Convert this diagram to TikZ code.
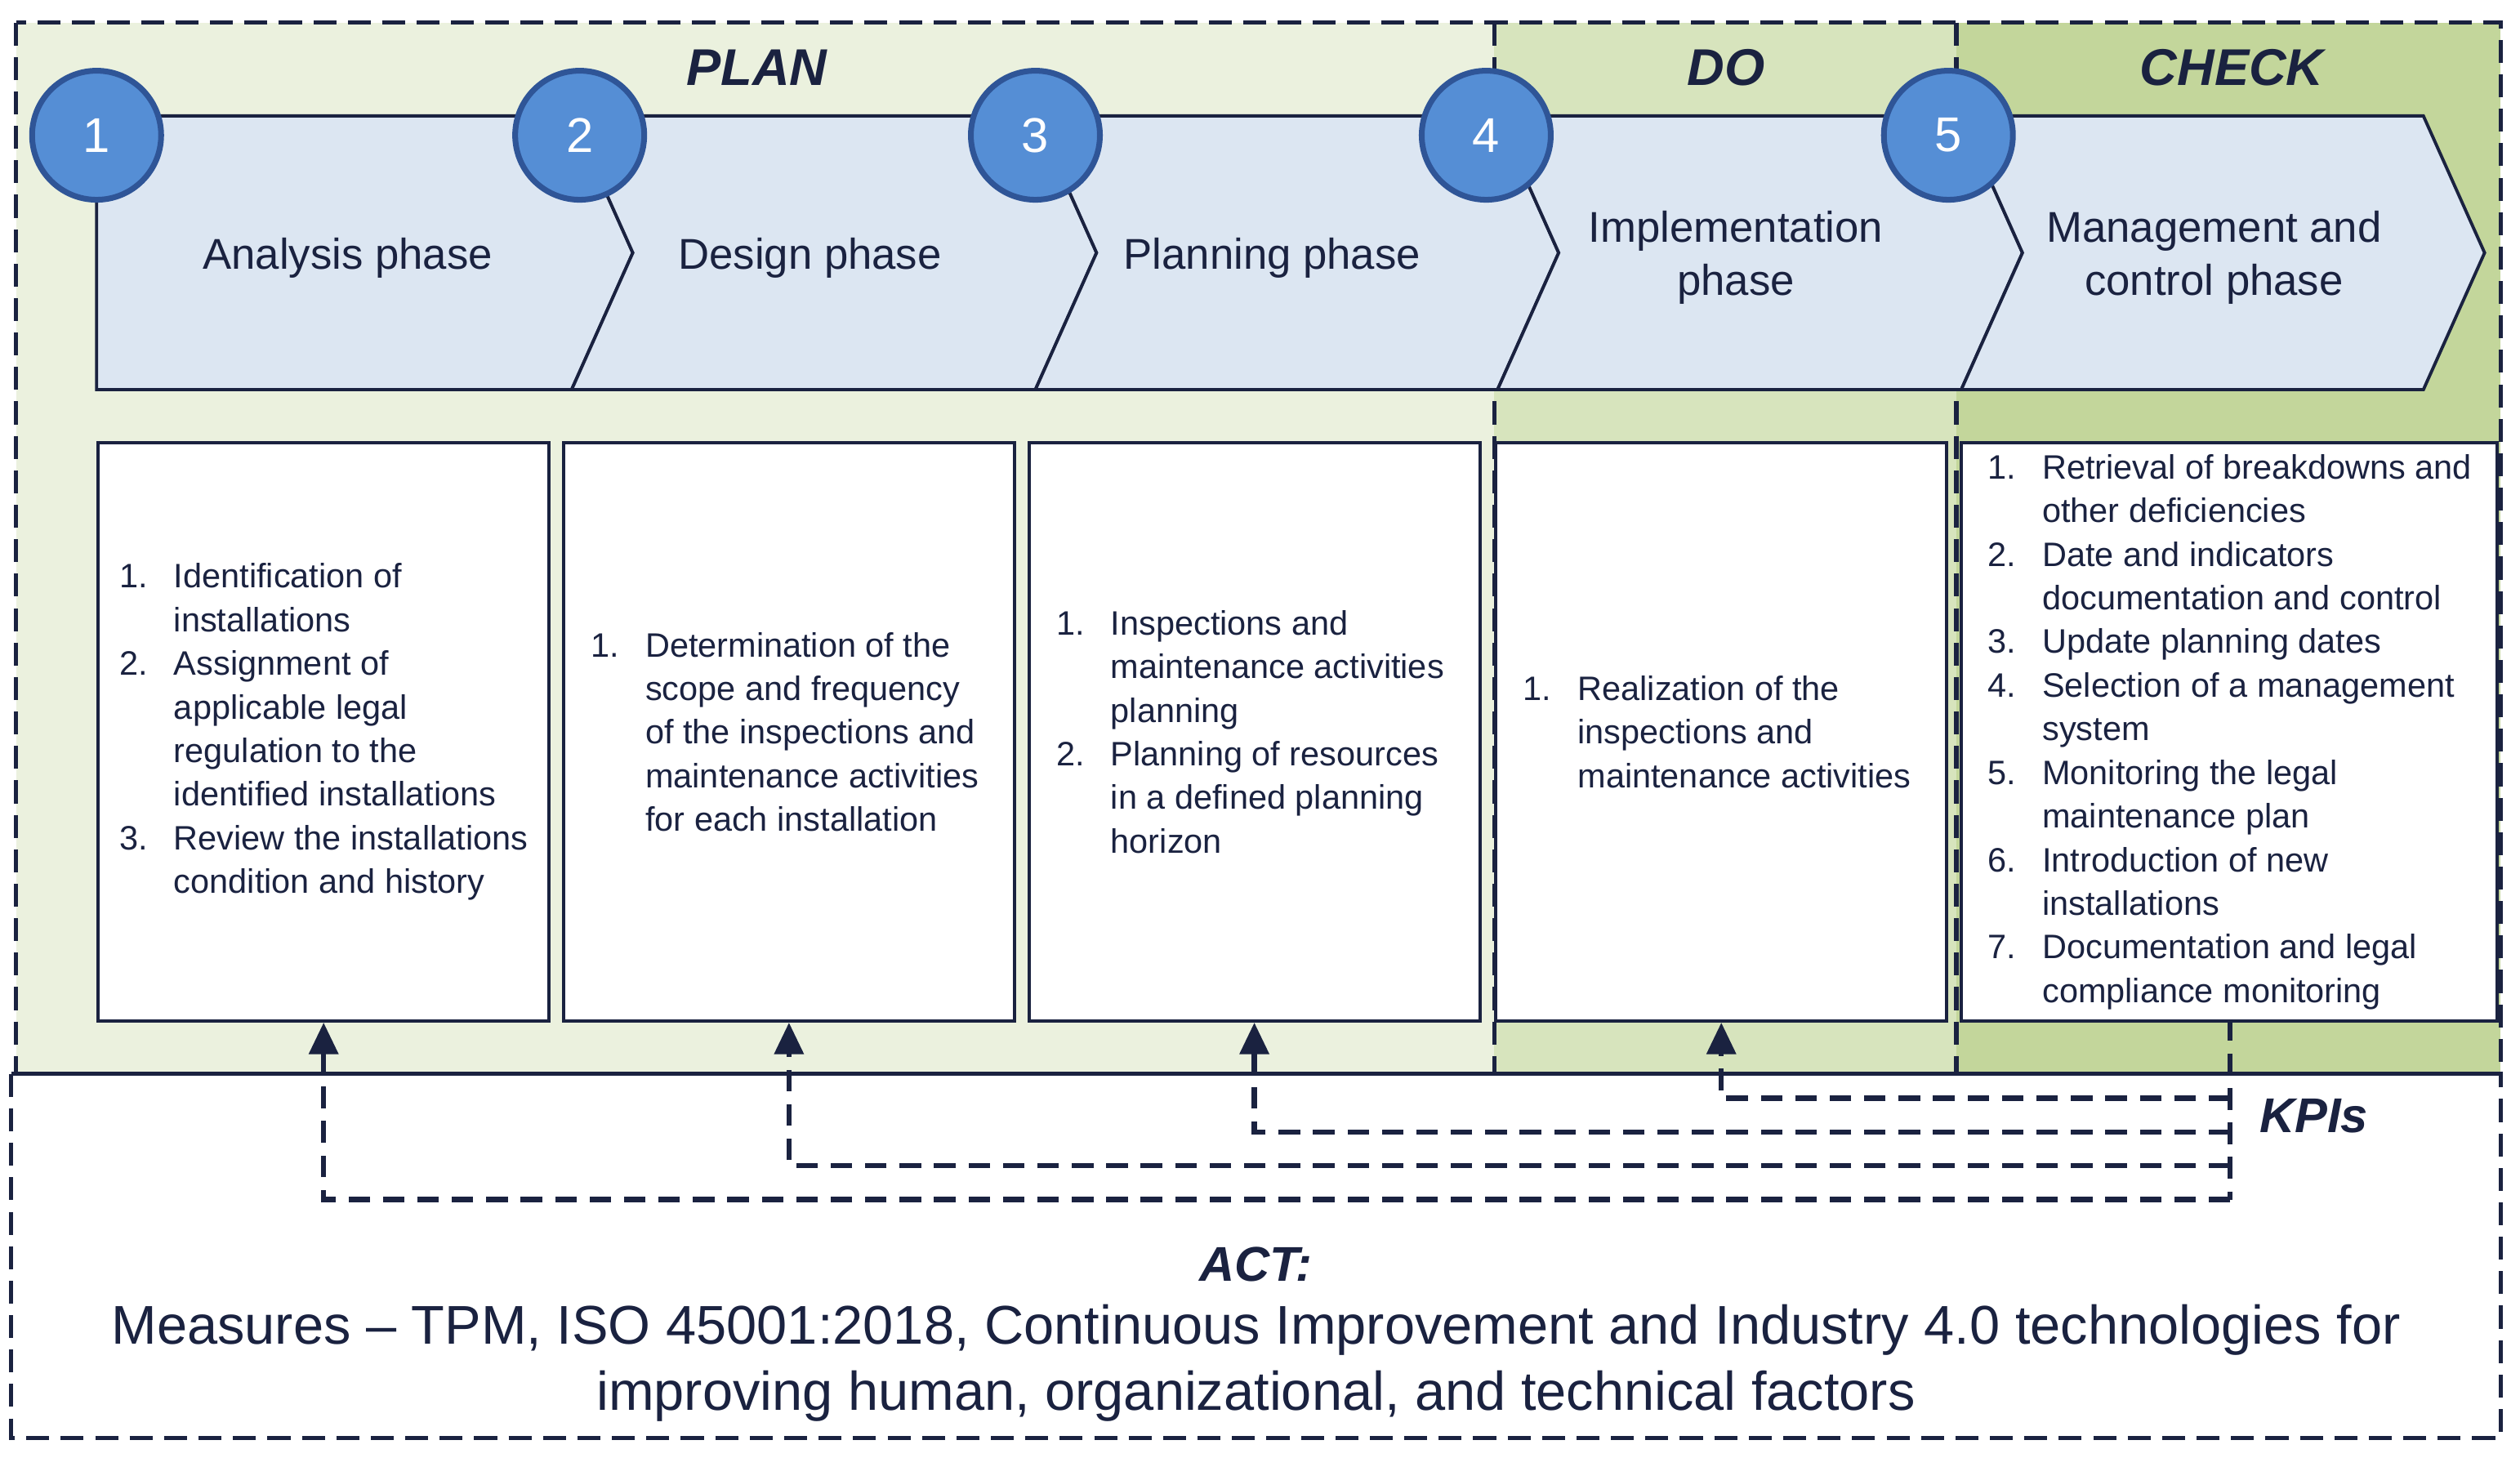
\documentclass[tikz,border=0pt]{standalone}
\usepackage{fontspec}
\setmainfont{Liberation Sans}
\usepackage{enumitem}
\usetikzlibrary{arrows.meta}
\definecolor{planbg}{HTML}{EBF1DE}
\definecolor{dobg}{HTML}{D7E4BD}
\definecolor{checkbg}{HTML}{C3D69B}
\definecolor{chevfill}{HTML}{DCE6F2}
\definecolor{navy}{HTML}{1A2240}
\definecolor{ballfill}{HTML}{558ED5}
\definecolor{ballline}{HTML}{2F5597}
\tikzset{
	frame/.style={draw=navy, line width=1.5pt, dash pattern=on 8pt off 4pt},
	chev/.style={draw=navy, fill=chevfill, line width=1.1pt},
	ball/.style={circle, draw=ballline, fill=ballfill, line width=2pt, minimum size=1.58cm, text=white, font=\fontsize{17}{17}\selectfont},
	phase/.style={align=center, font=\fontsize{15}{18.5}\selectfont, text=navy},
	task/.style={draw=navy, fill=white, line width=1.1pt, anchor=north west, inner sep=0pt},
	head/.style={font=\fontsize{18}{18}\selectfont\bfseries\itshape, text=navy},
	kpi/.style={navy, line width=1.8pt, dash pattern=on 7.5pt off 4.5pt},
	feed/.style={kpi, -{Triangle[length=11pt,width=10pt]}}
}
\newcommand{\tasklist}[2]{%
	\begin{minipage}{#1}\fontsize{11.8}{15.2}\selectfont\color{navy}\raggedright\hyphenpenalty=10000\exhyphenpenalty=10000
	\begin{enumerate}[leftmargin=19pt, labelsep=*, itemsep=0pt, topsep=0pt, parsep=0pt, partopsep=0pt]
	#2
	\end{enumerate}\end{minipage}}
\begin{document}
\begin{tikzpicture}[x=0.01971cm, y=-0.01971cm]
	\useasboundingbox (0,0) rectangle (1565,911);
	
	%fondi
	\fill[planbg] (10,14) rectangle (928,667);
	\fill[dobg] (928,14) rectangle (1215,667);
	\fill[checkbg] (1215,14) rectangle (1553,667);
	\draw[frame] (10,14) rectangle (1553,667);
	\draw[frame] (928,14) -- (928,667);
	\draw[frame] (1215,14) -- (1215,667);
	\draw[frame] (7,667) rectangle (1553,893);
	
	\node[head] (plan) at (470,42) {PLAN};
	\node[head] (do) at (1072,42) {DO};
	\node[head] (check) at (1386,42) {CHECK};
	
	%frecce delle fasi
	\draw[chev] (60,72) -- (355,72) -- (393,157) -- (355,242) -- (60,242) -- cycle;
	\foreach \l/\r in {355/643, 643/930, 930/1218, 1218/1505}
		\draw[chev] (\l,72) -- (\r,72) -- (\r+38,157) -- (\r,242) -- (\l,242) -- (\l+38,157) -- cycle;
	
	\node[phase] (analysis) at (216,160) {Analysis phase};
	\node[phase] (design) at (503,160) {Design phase};
	\node[phase] (planning) at (790,160) {Planning phase};
	\node[phase] (implementation) at (1078,160) {Implementation\\phase};
	\node[phase] (management) at (1375,160) {Management and\\control phase};
	
	%numeri
	\foreach \x/\n in {60/1, 360/2, 643/3, 923/4, 1210/5}
		\node[ball] (n\n) at (\x,84) {\n};
	
	%riquadri
	\node[task, minimum width=5.52cm, minimum height=7.08cm] (box1) at (60,274) {};
	\node[task, minimum width=5.52cm, minimum height=7.08cm] (box2) at (349,274) {};
	\node[task, minimum width=5.52cm, minimum height=7.08cm] (box3) at (638,274) {};
	\node[task, minimum width=5.52cm, minimum height=7.08cm] (box4) at (928,274) {};
	\node[task, minimum width=6.56cm, minimum height=7.08cm] (box5) at (1217,274) {};
	
	\node at (box1.center) {\tasklist{5.0cm}{
		\item Identification of installations
		\item Assignment of applicable legal regulation to the identified installations
		\item Review the installations condition and history}};
	\node at (box2.center) {\tasklist{4.85cm}{
		\item Determination of the scope and frequency of the inspections and maintenance activities for each installation}};
	\node at (box3.center) {\tasklist{4.85cm}{
		\item Inspections and maintenance activities planning
		\item Planning of resources in a defined planning horizon}};
	\node at (box4.center) {\tasklist{4.85cm}{
		\item Realization of the inspections and maintenance activities}};
	\node at ([xshift=2pt]box5.center) {\tasklist{6.05cm}{
		\item Retrieval of breakdowns and other deficiencies
		\item Date and indicators documentation and control
		\item Update planning dates
		\item Selection of a management system
		\item Monitoring the legal maintenance plan
		\item Introduction of new installations
		\item Documentation and legal compliance monitoring}};
	
	%ritorno KPI
	\coordinate (k0) at (1385,633);
	\coordinate (k4) at (1385,682);
	\coordinate (k3) at (1385,703);
	\coordinate (k2) at (1385,724);
	\coordinate (k1) at (1385,745);
	\draw[kpi] (k0) -- (k1);
	\draw[feed] (k4) -| (box4.south);
	\draw[feed] (k3) -| (box3.south);
	\draw[feed] (k2) -| (box2.south);
	\draw[feed] (k1) -| (box1.south);
	\node[head, font=\fontsize{17}{17}\selectfont\bfseries\itshape] (kpis) at (1437,693) {KPIs};
	
	%act
	\node[head, font=\fontsize{17}{17}\selectfont\bfseries\itshape] (act) at (780,785) {ACT:};
	\node[align=center, font=\fontsize{19}{23}\selectfont, text=navy, below=1pt] (measures) at (act.south) {Measures -- TPM, ISO 45001:2018, Continuous Improvement and Industry 4.0 technologies for\\improving human, organizational, and technical factors};
\end{tikzpicture}
\end{document}
